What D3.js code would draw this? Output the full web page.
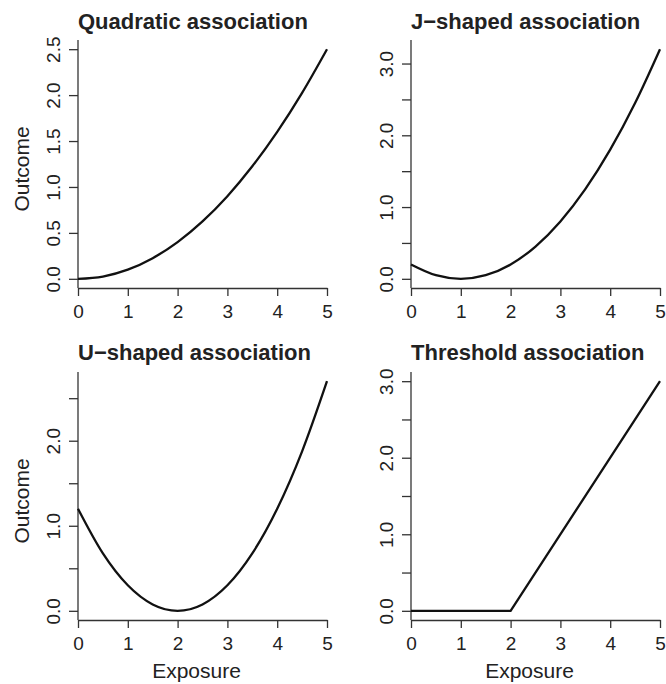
<!DOCTYPE html>
<html>
<head>
<meta charset="utf-8">
<script src="https://cdn.jsdelivr.net/npm/d3@7"></script>
<style>
    body { margin: 0; background: #fff; }
    svg text { font-family: "Liberation Sans", Arial, Helvetica, sans-serif; fill: #222; }
    .domain, .tick line { stroke: #333; stroke-width: 1.3; }
</style>
</head>
<body>
<div class="container"></div>
<script>
var SVG_WIDTH = 666;
var SVG_HEIGHT = 684;

// values, x step 0.5
var exposure = [0, 0.5, 1, 1.5, 2, 2.5, 3, 3.5, 4, 4.5, 5];
var quadratic = [0, 0.025, 0.1, 0.225, 0.4, 0.625, 0.9, 1.225, 1.6, 2.025, 2.5];
var jShaped = [0.2, 0.05, 0, 0.05, 0.2, 0.45, 0.8, 1.25, 1.8, 2.45, 3.2];
var uShaped = [1.2, 0.675, 0.3, 0.075, 0, 0.075, 0.3, 0.675, 1.2, 1.875, 2.7];
var thresholdX = [0, 2, 5];
var threshold = [0, 0, 3];

var titles = ['Quadratic association', 'J\u2212shaped association', 'U\u2212shaped association', 'Threshold association'];
var xTicks = [0, 1, 2, 3, 4, 5];
var yTicks = [
    [0, 0.5, 1, 1.5, 2, 2.5],
    [0, 0.5, 1, 1.5, 2, 2.5, 3],
    [0, 0.5, 1, 1.5, 2, 2.5],
    [0, 0.5, 1, 1.5, 2, 2.5, 3]
];
var yLabelled = [
    [0, 0.5, 1, 1.5, 2, 2.5],
    [0, 1, 2, 3],
    [0, 1, 2],
    [0, 1, 2, 3]
];

var panels = [
    { xs: exposure, ys: quadratic, left: 78, top: 40, curve: d3.curveMonotoneX },
    { xs: exposure, ys: jShaped, left: 411, top: 40, curve: d3.curveMonotoneX },
    { xs: exposure, ys: uShaped, left: 78, top: 372, curve: d3.curveMonotoneX },
    { xs: thresholdX, ys: threshold, left: 411, top: 372, curve: d3.curveLinear }
];
var PLOT_W = 249;
var PLOT_H = 248;

var svg = d3.select('.container')
    .append('svg')
    .attr('width', SVG_WIDTH)
    .attr('height', SVG_HEIGHT);

panels.forEach(function (p, i) {
    var g = svg.append('g')
        .attr('transform', 'translate(' + p.left + ',' + p.top + ')');

    var x = d3.scaleLinear().domain([0, 5]).range([0, PLOT_W]);
    var yMin = d3.min(p.ys), yMax = d3.max(p.ys);
    var pad = (yMax - yMin) * 0.04;
    var y = d3.scaleLinear().domain([yMin - pad, yMax + pad]).range([PLOT_H, 0]);

    var xAxis = g.append('g')
        .attr('transform', 'translate(0,' + PLOT_H + ')')
        .call(d3.axisBottom(x).tickValues(xTicks).tickSize(8).tickSizeOuter(0).tickFormat(d3.format('d')));
    xAxis.selectAll('text')
        .attr('y', 30)
        .attr('dy', 0)
        .style('font-size', '19px');

    var yAxis = g.append('g')
        .call(d3.axisLeft(y).tickValues(yTicks[i]).tickSize(9).tickSizeOuter(0)
            .tickFormat(function (d) {
                return yLabelled[i].indexOf(d) >= 0 ? d3.format('.1f')(d) : '';
            }));
    yAxis.select('.domain').attr('d', 'M0,0V' + PLOT_H);
    yAxis.selectAll('text')
        .attr('transform', 'rotate(-90)')
        .attr('x', 0)
        .attr('y', -18)
        .attr('dy', 0)
        .attr('text-anchor', 'middle')
        .style('font-size', '19px');

    var line = d3.line()
        .x(function (d) { return x(d[0]); })
        .y(function (d) { return y(d[1]); })
        .curve(p.curve);

    g.append('path')
        .datum(p.xs.map(function (v, k) { return [v, p.ys[k]]; }))
        .attr('d', line)
        .attr('fill', 'none')
        .attr('stroke', '#111')
        .attr('stroke-width', 2.3);

    g.append('text')
        .attr('x', 0)
        .attr('y', i < 2 ? -11 : -12.5)
        .style('font-size', '22px')
        .style('font-weight', 'bold')
        .text(titles[i]);

    if (i % 2 === 0) {
        g.append('text')
            .attr('transform', 'translate(-49,' + (PLOT_H / 2 + 5) + ') rotate(-90)')
            .attr('text-anchor', 'middle')
            .style('font-size', '21px')
            .text('Outcome');
    }
    if (i >= 2) {
        g.append('text')
            .attr('x', PLOT_W / 2 - 6)
            .attr('y', PLOT_H + 58)
            .attr('text-anchor', 'middle')
            .style('font-size', '21px')
            .text('Exposure');
    }
});
</script>
</body>
</html>
